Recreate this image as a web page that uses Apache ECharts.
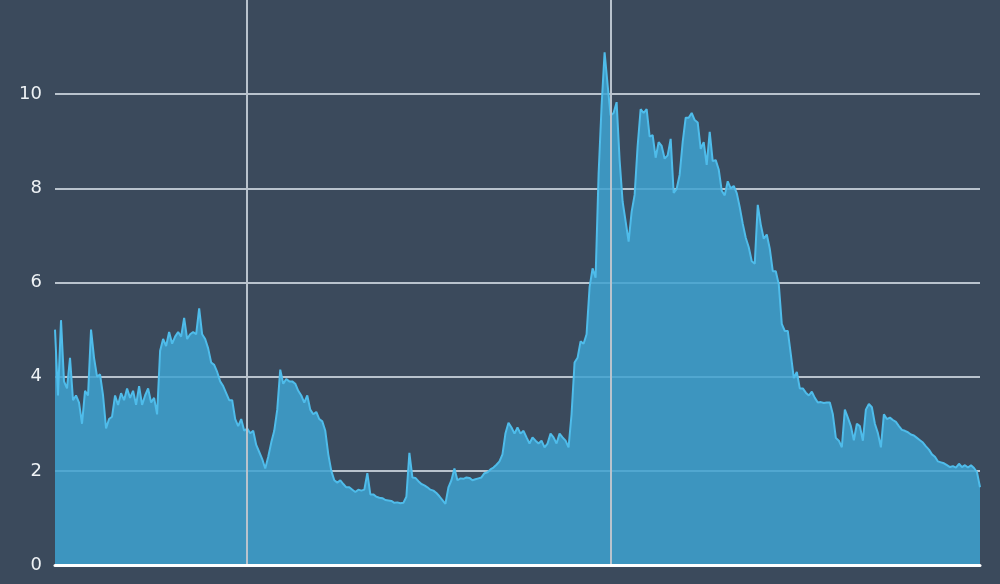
<!DOCTYPE html>
<html>
<head>
<meta charset="utf-8">
<script src="https://cdn.jsdelivr.net/npm/echarts@6/dist/echarts.min.js"></script>
<style>
html,body{margin:0;padding:0;background:#3b4a5c;}
#c{width:1000px;height:584px;}
</style>
</head>
<body>
<div id="c"></div>
<script>
const values = [
5.0,3.6,5.2,3.9,3.75,4.4,3.5,3.6,3.45,3.0,
3.7,3.6,5.0,4.4,4.0,4.05,3.6,2.9,3.1,3.15,
3.6,3.4,3.65,3.5,3.75,3.55,3.7,3.4,3.8,3.4,
3.6,3.75,3.45,3.55,3.2,4.55,4.8,4.65,4.95,4.7,
4.85,4.95,4.85,5.25,4.8,4.9,4.95,4.9,5.45,4.9,
4.8,4.6,4.3,4.25,4.1,3.9,3.8,3.65,3.5,3.5,
3.1,2.95,3.1,2.85,2.9,2.8,2.85,2.55,2.4,2.25,
2.05,2.3,2.6,2.85,3.3,4.15,3.85,3.95,3.9,3.9,
3.85,3.7,3.6,3.45,3.6,3.3,3.2,3.25,3.1,3.05,
2.85,2.35,2.0,1.8,1.75,1.8,1.72,1.65,1.65,1.6,
1.55,1.6,1.58,1.6,1.95,1.5,1.5,1.45,1.43,1.42,
1.38,1.37,1.36,1.32,1.33,1.31,1.32,1.45,2.38,1.86,
1.85,1.78,1.72,1.69,1.65,1.6,1.58,1.53,1.46,1.38,
1.3,1.65,1.8,2.05,1.8,1.84,1.83,1.86,1.85,1.8,
1.82,1.84,1.86,1.95,1.97,2.03,2.07,2.13,2.2,2.35,
2.8,3.02,2.92,2.79,2.92,2.79,2.85,2.71,2.58,2.71,
2.64,2.58,2.64,2.5,2.58,2.79,2.71,2.58,2.79,2.71,
2.64,2.5,3.2,4.3,4.4,4.75,4.7,4.9,5.9,6.3,
6.1,8.3,9.75,10.89,10.2,9.55,9.6,9.83,8.6,7.72,
7.3,6.87,7.5,7.86,8.9,9.68,9.6,9.68,9.1,9.13,
8.65,8.98,8.9,8.63,8.7,9.05,7.9,7.99,8.29,8.98,
9.5,9.5,9.6,9.45,9.4,8.84,8.98,8.5,9.2,8.58,
8.6,8.4,7.95,7.85,8.15,8.0,8.05,7.9,7.6,7.25,
6.95,6.75,6.45,6.4,7.65,7.23,6.93,7.02,6.72,6.24,
6.24,5.96,5.12,4.97,4.97,4.48,3.97,4.1,3.75,3.75,
3.66,3.6,3.68,3.55,3.45,3.46,3.44,3.45,3.45,3.2,
2.7,2.64,2.5,3.3,3.13,2.95,2.65,3.0,2.95,2.64,
3.3,3.42,3.35,3.0,2.8,2.5,3.2,3.1,3.13,3.08,
3.04,2.95,2.87,2.85,2.82,2.77,2.75,2.7,2.65,2.6,
2.52,2.45,2.35,2.3,2.2,2.18,2.16,2.12,2.08,2.1,
2.07,2.15,2.08,2.12,2.07,2.12,2.06,1.97,1.65
];
const categories = values.map((v, i) => String(i));
const verticalLineIndices = [64, 185];
const yTicks = [0, 2, 4, 6, 8, 10];

const chart = echarts.init(document.getElementById('c'), null, {renderer: 'canvas'});
chart.setOption({
  backgroundColor: '#3b4a5c',
  animation: false,
  grid: {left: 55, right: 20, top: -2.6, bottom: 19, containLabel: false},
  xAxis: {
    type: 'category',
    data: categories,
    boundaryGap: false,
    z: 10,
    axisLine: {show: true, lineStyle: {color: '#ffffff', width: 3}},
    axisTick: {show: false},
    axisLabel: {show: false},
    splitLine: {
      show: true,
      interval: (idx) => verticalLineIndices.indexOf(idx) >= 0,
      lineStyle: {color: '#b9c3cd', width: 2}
    }
  },
  yAxis: {
    type: 'value',
    min: 0, max: 12, interval: 2,
    axisLine: {show: false},
    axisTick: {show: false},
    axisLabel: {
      color: '#eef2f5',
      fontFamily: 'DejaVu Sans',
      fontSize: 18,
      margin: 13,
      showMaxLabel: false,
      formatter: (v) => yTicks.indexOf(v) >= 0 ? String(v) : ''
    },
    splitLine: {show: true, showMaxLine: false, lineStyle: {color: '#b9c3cd', width: 2}}
  },
  series: [{
    type: 'line',
    data: values,
    symbol: 'none',
    lineStyle: {color: '#4fbcea', width: 2},
    areaStyle: {color: 'rgba(62,162,208,0.85)', opacity: 1, origin: 'start'}
  }]
});
</script>
</body>
</html>
